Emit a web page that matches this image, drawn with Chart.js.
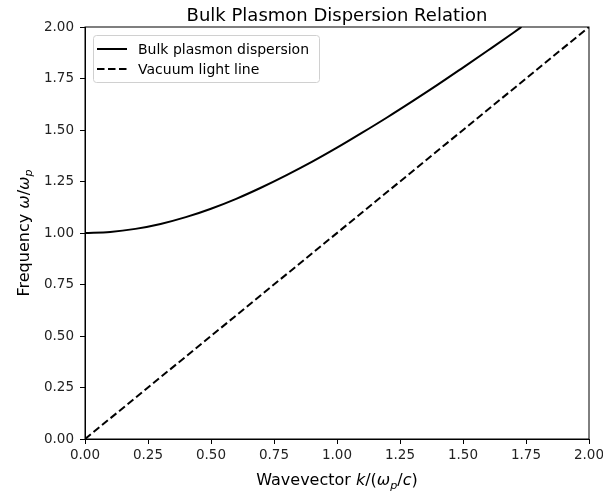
<!DOCTYPE html>
<html>
<head>
<meta charset="utf-8">
<script src="https://cdn.jsdelivr.net/npm/chart.js@4.4.1/dist/chart.umd.min.js"></script>
<style>
  html, body { margin: 0; padding: 0; background: #fff; }
  #wrap { width: 603px; height: 492px; }
</style>
</head>
<body>
<div id="wrap"><canvas id="dispersao"></canvas></div>
<script>
// valores
var kPlasmon = [0, 0.1, 0.2, 0.3, 0.4, 0.5, 0.6, 0.7, 0.8, 0.9, 1.0, 1.1, 1.2, 1.3, 1.4, 1.5, 1.6, 1.7, 1.732];
var wPlasmon = [1.000, 1.005, 1.020, 1.044, 1.077, 1.118, 1.166, 1.221, 1.281, 1.345, 1.414, 1.487, 1.562, 1.640, 1.720, 1.803, 1.887, 1.972, 2.000];
var kLuz = [0, 2];
var wLuz = [0, 2];
var ticksX = [0, 0.25, 0.5, 0.75, 1.0, 1.25, 1.5, 1.75, 2.0];
var ticksY = [0, 0.25, 0.5, 0.75, 1.0, 1.25, 1.5, 1.75, 2.0];
var legendas = ['Bulk plasmon dispersion', 'Vacuum light line'];
var titulo = 'Bulk Plasmon Dispersion Relation';

var FONTE = 'DejaVu Sans';

function pares(xs, ys) {
    return xs.map(function(x, i) { return { x: x, y: ys[i] }; });
}

// texto com partes em italico / subscrito (estilo mathtext)
function larguraRich(ctx, partes, tam) {
    var w = 0;
    partes.forEach(function(p) {
        ctx.font = (p.it ? 'italic ' : '') + (p.sub ? tam * 0.7 : tam) + 'px "' + FONTE + '"';
        w += ctx.measureText(p.t).width;
    });
    return w;
}
function desenhaRich(ctx, partes, tam, cx, base) {
    var x = cx - larguraRich(ctx, partes, tam) / 2;
    ctx.textAlign = 'left';
    ctx.textBaseline = 'alphabetic';
    partes.forEach(function(p) {
        ctx.font = (p.it ? 'italic ' : '') + (p.sub ? tam * 0.7 : tam) + 'px "' + FONTE + '"';
        ctx.fillText(p.t, x, base + (p.sub ? tam * 0.22 : 0));
        x += ctx.measureText(p.t).width;
    });
}

var rotuloX = [
    { t: 'Wavevector ' }, { t: 'k', it: true }, { t: '/(' },
    { t: '\u03c9', it: true }, { t: 'p', it: true, sub: true },
    { t: '/' }, { t: 'c', it: true }, { t: ')' }
];
var rotuloY = [
    { t: 'Frequency ' }, { t: '\u03c9', it: true }, { t: '/' },
    { t: '\u03c9', it: true }, { t: 'p', it: true, sub: true }
];

var extras = {
    id: 'extras',
    afterDraw: function(chart) {
        var ctx = chart.ctx, a = chart.chartArea;
        ctx.save();
        // moldura completa
        ctx.strokeStyle = '#000';
        ctx.lineWidth = 1;
        ctx.strokeRect(a.left, a.top, a.right - a.left, a.bottom - a.top);

        ctx.fillStyle = '#000';
        var cx = (a.left + a.right) / 2;
        // titulo
        ctx.font = '18px "' + FONTE + '"';
        ctx.textAlign = 'center';
        ctx.textBaseline = 'alphabetic';
        ctx.fillText(titulo, cx, 20.5);
        // rotulos dos eixos
        desenhaRich(ctx, rotuloX, 16, cx, 485);
        ctx.save();
        ctx.translate(28.5, (a.top + a.bottom) / 2);
        ctx.rotate(-Math.PI / 2);
        desenhaRich(ctx, rotuloY, 16, 0, 0);
        ctx.restore();

        // legenda
        var lx = a.left + 8, ly = a.top + 8, lw = 226, lh = 47;
        ctx.fillStyle = 'rgba(255,255,255,0.8)';
        ctx.strokeStyle = '#d0d0d0';
        ctx.beginPath();
        ctx.roundRect(lx + 0.5, ly + 0.5, lw, lh, 3);
        ctx.fill();
        ctx.stroke();
        ctx.font = '14px "' + FONTE + '"';
        ctx.textAlign = 'left';
        ctx.textBaseline = 'middle';
        legendas.forEach(function(txt, i) {
            var yy = ly + 14 + i * 20;
            ctx.strokeStyle = '#000';
            ctx.lineWidth = 2;
            ctx.setLineDash(i === 1 ? [7.5, 3.5] : []);
            ctx.beginPath();
            ctx.moveTo(lx + 4, yy);
            ctx.lineTo(lx + 34, yy);
            ctx.stroke();
            ctx.setLineDash([]);
            ctx.fillStyle = '#000';
            ctx.fillText(txt, lx + 45, yy + 1);
        });
        ctx.restore();
    }
};

function fixaTicks(lista) {
    return function(scale) {
        scale.ticks = lista.map(function(v) { return { value: v }; });
    };
}

var ctx = document.getElementById('dispersao').getContext('2d');
var grafico = new Chart(ctx, {
    type: 'line',
    data: {
        datasets: [{
            label: legendas[0],
            data: pares(kPlasmon, wPlasmon),
            borderColor: '#000',
            borderWidth: 2,
            pointRadius: 0,
            cubicInterpolationMode: 'monotone',
            fill: false
        }, {
            label: legendas[1],
            data: pares(kLuz, wLuz),
            borderColor: '#000',
            borderWidth: 2,
            borderDash: [7.5, 3.5],
            pointRadius: 0,
            fill: false
        }]
    },
    options: {
        responsive: true,
        maintainAspectRatio: false,
        animation: false,
        layout: { padding: { left: 0, top: 27, right: 14, bottom: 0 } },
        plugins: {
            legend: { display: false },
            title: { display: false },
            tooltip: { enabled: false }
        },
        scales: {
            x: {
                type: 'linear',
                min: 0, max: 2,
                afterBuildTicks: fixaTicks(ticksX),
                afterFit: function(s) { s.height = 53; s.paddingLeft = 0; s.paddingRight = 0; },
                grid: { drawOnChartArea: false, color: '#000', tickLength: 5 },
                border: { color: '#000', width: 1 },
                ticks: {
                    color: '#222',
                    padding: 3,
                    maxRotation: 0,
                    autoSkip: false,
                    font: { family: FONTE, size: 13.5 },
                    callback: function(v) { return Number(v).toFixed(2); }
                }
            },
            y: {
                type: 'linear',
                min: 0, max: 2,
                afterBuildTicks: fixaTicks(ticksY),
                afterFit: function(s) { s.width = 85; s.paddingTop = 0; s.paddingBottom = 0; },
                grid: { drawOnChartArea: false, color: '#000', tickLength: 5 },
                border: { color: '#000', width: 1 },
                ticks: {
                    color: '#222',
                    padding: 6,
                    autoSkip: false,
                    font: { family: FONTE, size: 13.5 },
                    callback: function(v) { return Number(v).toFixed(2); }
                }
            }
        }
    },
    plugins: [extras]
});
window.grafico = grafico;
</script>
</body>
</html>
